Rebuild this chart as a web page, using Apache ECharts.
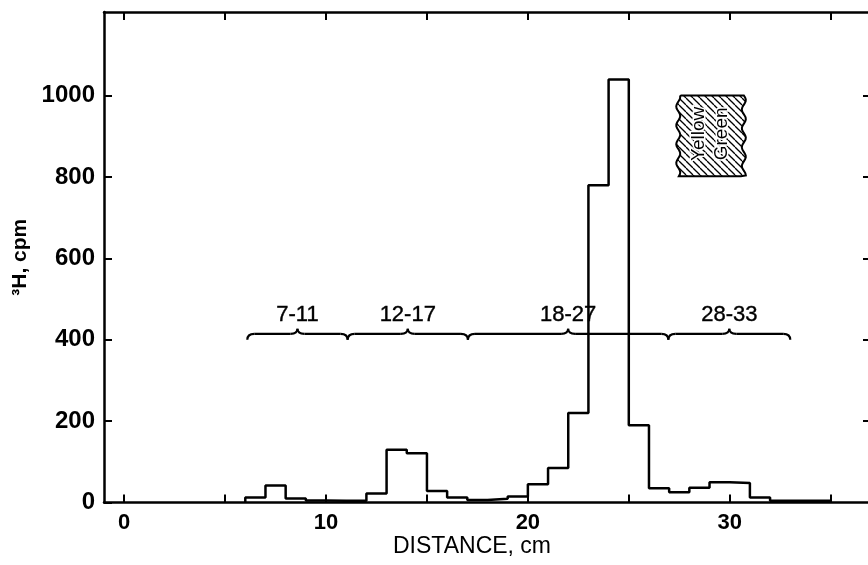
<!DOCTYPE html>
<html>
<head>
<meta charset="utf-8">
<script src="https://cdn.jsdelivr.net/npm/echarts@6/dist/echarts.min.js"></script>
<style>
  html, body { margin: 0; background: #fff; }
  #chart { width: 868px; height: 565px; }
</style>
</head>
<body>
<div id="chart"></div>
<script>
// histogram: left edge of each 1 cm slice and its count
const binStart = [6, 7, 8, 9, 10, 11, 12, 13, 14, 15, 16, 17, 18, 19, 20,
                  21, 22, 23, 24, 25, 26, 27, 28, 29, 30, 31, 32, 33, 34];
const cpm = [12, 42, 10, 5, 4, 4, 22, 130, 121, 28, 12, 6, 9, 15, 45,
             85, 220, 780, 1040, 190, 35, 25, 36, 50, 48, 12, 4, 4, 4];

const xTicks = [0, 5, 10, 15, 20, 25, 30, 35];
const xLabels = [0, 10, 20, 30];
const yTicks = [0, 200, 400, 600, 800, 1000];

// fraction braces
const braceFrom = [6.1, 11.07, 17.03, 26.96];
const braceTo = [11.07, 17.03, 26.96, 33.0];
const braceText = ['7-11', '12-17', '18-27', '28-33'];
const braceLevel = 400;

// yellow / green band marker
const bandX = [27.45, 30.7];
const bandY = [802, 1001];
const bandText = ['Yellow', 'Green'];

const chart = echarts.init(document.getElementById('chart'));

const stepData = [[binStart[0], 0]];
binStart.forEach((x, i) => stepData.push([x + 1, cpm[i]]));
stepData.push([binStart[binStart.length - 1] + 1, 0]);

// hatch pattern
const hatch = document.createElement('canvas');
hatch.width = 7; hatch.height = 7;
const hc = hatch.getContext('2d');
hc.fillStyle = '#fff';
hc.fillRect(0, 0, 7, 7);
hc.strokeStyle = '#000';
hc.lineWidth = 1.3;
[-7, 0, 7].forEach(k => { hc.beginPath(); hc.moveTo(k, 0); hc.lineTo(k + 7, 7); hc.stroke(); });

const font = 'Liberation Sans, Arial, sans-serif';
const axisLine = { show: true, onZero: false, lineStyle: { color: '#000', width: 2.5 } };
const tick = (vals) => ({ show: true, inside: true, length: 8, customValues: vals, lineStyle: { color: '#000', width: 2 } });

const option = {
  animation: false,
  backgroundColor: '#fff',
  grid: { left: 104, top: 12, width: 767, height: 490.5, outerBoundsMode: 'none', containLabel: false },
  xAxis: [
    {
      type: 'value', min: -1, max: 37, position: 'bottom',
      axisLine: axisLine, axisTick: tick(xTicks),
      axisLabel: { customValues: xLabels, color: '#000', fontSize: 22, fontWeight: 'bold', fontFamily: font, margin: 9 },
      splitLine: { show: false }
    },
    {
      type: 'value', min: -1, max: 37, position: 'top',
      axisLine: axisLine, axisTick: tick(xTicks),
      axisLabel: { show: false }, splitLine: { show: false }
    }
  ],
  yAxis: [
    {
      type: 'value', min: 0, max: 1206, position: 'left',
      name: '³H, cpm', nameLocation: 'middle', nameGap: 72,
      nameTextStyle: { color: '#000', fontSize: 21, fontWeight: 'bold', fontFamily: font },
      axisLine: axisLine, axisTick: tick(yTicks),
      axisLabel: { customValues: yTicks, formatter: (v) => String(v), color: '#000', fontSize: 24,
                   fontWeight: 'bold', fontFamily: font, margin: 9 },
      splitLine: { show: false }
    },
    {
      type: 'value', min: 0, max: 1206, position: 'right',
      axisLine: axisLine, axisTick: tick(yTicks.slice(1)),
      axisLabel: { show: false }, splitLine: { show: false }
    }
  ],
  graphic: [{
    type: 'text', left: 393, top: 535,
    style: { text: 'DISTANCE, cm', fill: '#000', font: '23px ' + font }
  }],
  series: [
    {
      type: 'line', step: 'start', data: stepData, symbol: 'none',
      lineStyle: { color: '#000', width: 2.5 }, z: 3
    },
    {
      type: 'custom', z: 4,
      data: braceFrom.map((f, i) => [f, braceTo[i], i]),
      renderItem: (params, api) => {
        const a = api.coord([api.value(0), braceLevel]);
        const b = api.coord([api.value(1), braceLevel]);
        const tipY = a[1], ly = a[1] - 6, cy = ly - 5, r = 7;
        const x0 = a[0], x1 = b[0], m = (x0 + x1) / 2;
        const st = { stroke: '#000', lineWidth: 2.2, fill: null };
        const seg = (p) => ({ type: 'bezierCurve', shape: p, style: st });
        return {
          type: 'group',
          children: [
            seg({ x1: x0, y1: tipY, cpx1: x0, cpy1: ly, x2: x0 + r, y2: ly }),
            { type: 'line', shape: { x1: x0 + r, y1: ly, x2: m - r, y2: ly }, style: st },
            seg({ x1: m - r, y1: ly, cpx1: m, cpy1: ly, x2: m, y2: cy }),
            seg({ x1: m, y1: cy, cpx1: m, cpy1: ly, x2: m + r, y2: ly }),
            { type: 'line', shape: { x1: m + r, y1: ly, x2: x1 - r, y2: ly }, style: st },
            seg({ x1: x1 - r, y1: ly, cpx1: x1, cpy1: ly, x2: x1, y2: tipY }),
            {
              type: 'text',
              style: { text: braceText[api.value(2)], x: m, y: ly - 19, align: 'center', verticalAlign: 'middle',
                       fill: '#000', font: '22px ' + font, stroke: '#000', lineWidth: 0.4 }
            }
          ]
        };
      }
    },
    {
      type: 'custom', z: 5,
      data: [[bandX[0], bandX[1], bandY[0], bandY[1]]],
      renderItem: (params, api) => {
        const tl = api.coord([api.value(0), api.value(3)]);
        const br = api.coord([api.value(1), api.value(2)]);
        const pts = [];
        pts.push([tl[0] + 3, tl[1]], [br[0] - 3, tl[1]]);
        for (let y = tl[1]; y <= br[1]; y += 2) pts.push([br[0] + 2 * Math.sin((y - tl[1]) / 3), y]);
        pts.push([br[0] - 3, br[1]], [tl[0] + 3, br[1]]);
        for (let y = br[1]; y >= tl[1]; y -= 2) pts.push([tl[0] + 2 * Math.sin((y - tl[1]) / 3 + 1), y]);
        const cx = (tl[0] + br[0]) / 2, cy = (tl[1] + br[1]) / 2;
        const txt = (t, dx) => ({
          type: 'text', x: cx + dx, y: cy - 2, rotation: Math.PI / 2,
          style: { text: t, align: 'center', verticalAlign: 'middle', fill: '#000',
                   font: '19px ' + font, stroke: '#fff', lineWidth: 3 }
        });
        return {
          type: 'group',
          children: [
            { type: 'polygon', shape: { points: pts },
              style: { fill: { image: hatch, repeat: 'repeat' }, stroke: '#000', lineWidth: 2 } },
            txt(bandText[0], -12),
            txt(bandText[1], 11)
          ]
        };
      }
    }
  ]
};

chart.setOption(option);
</script>
</body>
</html>
